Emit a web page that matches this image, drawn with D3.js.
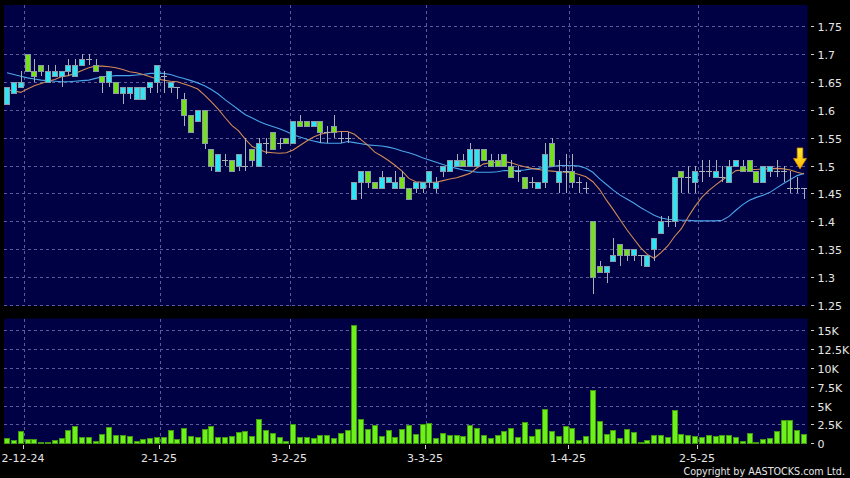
<!DOCTYPE html>
<html><head><meta charset="utf-8">
<script src="https://cdn.jsdelivr.net/npm/d3@7"></script>
<style>html,body{margin:0;padding:0;background:#000;}svg{display:block}</style>
</head><body><svg id="c" width="850" height="478"></svg>
<script>
// ---------------- data ----------------
const opens  = [1.61,1.63,1.64,1.70,1.67,1.68,1.65,1.66,1.66,1.67,1.66,1.68,1.69,1.68,1.66,1.65,1.65,1.63,1.63,1.62,
                1.62,1.64,1.65,1.66,1.64,1.64,1.62,1.59,1.58,1.60,1.53,1.49,1.51,1.51,1.50,1.50,1.53,1.50,1.54,1.56,
                1.54,1.55,1.54,1.58,1.58,1.57,1.58,1.56,1.57,1.55,1.55,1.44,1.47,1.49,1.47,1.46,1.47,1.46,1.48,1.46,
                1.46,1.46,1.47,1.46,1.49,1.49,1.50,1.51,1.50,1.50,1.53,1.51,1.51,1.52,1.50,1.49,1.48,1.47,1.46,1.47,
                1.54,1.47,1.49,1.49,1.47,1.46,1.40,1.32,1.31,1.33,1.36,1.35,1.34,1.34,1.32,1.35,1.38,1.40,1.40,1.49,
                1.48,1.47,1.49,1.49,1.48,1.48,1.47,1.50,1.50,1.51,1.49,1.47,1.49,1.49,1.49,1.46,1.46,1.46];
const highs  = [1.64,1.65,1.67,1.70,1.69,1.68,1.68,1.68,1.67,1.69,1.69,1.70,1.70,1.69,1.66,1.67,1.65,1.64,1.64,1.64,
                1.64,1.65,1.68,1.67,1.65,1.64,1.63,1.59,1.60,1.60,1.53,1.52,1.52,1.51,1.52,1.55,1.53,1.55,1.55,1.56,
                1.55,1.55,1.58,1.59,1.58,1.58,1.58,1.57,1.59,1.56,1.56,1.47,1.49,1.49,1.47,1.49,1.48,1.49,1.49,1.46,
                1.47,1.47,1.49,1.48,1.50,1.51,1.52,1.52,1.54,1.53,1.53,1.52,1.52,1.52,1.51,1.50,1.48,1.48,1.47,1.54,
                1.55,1.51,1.52,1.52,1.48,1.47,1.40,1.33,1.32,1.37,1.36,1.35,1.35,1.34,1.34,1.37,1.41,1.41,1.48,1.49,
                1.50,1.50,1.51,1.51,1.51,1.50,1.51,1.51,1.51,1.51,1.49,1.50,1.50,1.51,1.50,1.49,1.48,1.46];
const lows   = [1.61,1.63,1.64,1.67,1.65,1.66,1.65,1.66,1.64,1.66,1.66,1.68,1.68,1.67,1.63,1.64,1.63,1.61,1.62,1.62,
                1.62,1.63,1.63,1.63,1.63,1.62,1.57,1.56,1.58,1.53,1.49,1.49,1.50,1.49,1.49,1.49,1.50,1.50,1.52,1.53,
                1.53,1.54,1.54,1.57,1.57,1.57,1.54,1.54,1.55,1.54,1.54,1.44,1.44,1.46,1.46,1.46,1.47,1.46,1.46,1.44,
                1.45,1.45,1.46,1.45,1.48,1.49,1.50,1.50,1.50,1.50,1.51,1.50,1.50,1.50,1.48,1.47,1.46,1.46,1.46,1.46,
                1.50,1.45,1.45,1.46,1.45,1.45,1.27,1.31,1.29,1.33,1.32,1.33,1.33,1.32,1.32,1.33,1.38,1.39,1.39,1.45,
                1.45,1.45,1.47,1.48,1.48,1.47,1.47,1.50,1.49,1.49,1.47,1.47,1.48,1.48,1.47,1.45,1.45,1.44];
const closes = [1.64,1.65,1.65,1.67,1.66,1.67,1.67,1.67,1.67,1.68,1.68,1.69,1.69,1.67,1.65,1.67,1.63,1.64,1.64,1.64,
                1.64,1.65,1.68,1.66,1.65,1.64,1.59,1.56,1.60,1.54,1.50,1.52,1.51,1.49,1.52,1.50,1.51,1.54,1.54,1.53,
                1.54,1.54,1.58,1.57,1.57,1.58,1.56,1.56,1.56,1.55,1.55,1.47,1.49,1.47,1.46,1.48,1.48,1.47,1.46,1.44,
                1.47,1.47,1.49,1.47,1.50,1.51,1.51,1.50,1.53,1.53,1.51,1.50,1.50,1.50,1.48,1.49,1.46,1.47,1.47,1.52,
                1.50,1.49,1.49,1.47,1.47,1.46,1.30,1.31,1.32,1.34,1.34,1.34,1.35,1.34,1.34,1.37,1.40,1.40,1.48,1.48,
                1.48,1.49,1.49,1.49,1.49,1.48,1.50,1.51,1.49,1.49,1.47,1.50,1.50,1.49,1.49,1.46,1.46,1.46];
const volumes = [660,400,1630,570,570,180,130,400,750,1800,2300,880,880,350,1240,2100,1150,1060,970,260,
                 620,700,790,790,1720,620,2030,1000,840,1940,2250,840,880,970,1460,1680,970,3180,1720,1320,
                 840,310,2560,880,790,660,1100,1100,700,1370,1760,15600,3180,1900,2470,970,1720,840,1940,2470,
                 1240,2560,2650,750,1320,1150,1150,970,2430,1990,1060,750,1060,1590,1990,880,2780,1000,1940,4540,
                 1590,930,2300,2030,490,970,7000,2900,1190,1720,700,1900,1500,220,440,1060,1150,840,4370,1280,
                 1150,970,880,1150,970,1150,1060,880,310,1410,220,530,700,1630,3090,3090,1760,1190];
const maShort = [1.635,1.634,1.631,1.637,1.643,1.647,1.651,1.654,1.659,1.661,1.665,1.670,1.675,1.678,1.678,1.677,1.675,1.672,1.668,1.666,
                 1.663,1.659,1.655,1.653,1.651,1.650,1.646,1.642,1.637,1.626,1.614,1.601,1.586,1.572,1.562,1.547,1.534,1.529,1.524,1.523,
                 1.522,1.523,1.528,1.536,1.544,1.551,1.556,1.559,1.560,1.561,1.561,1.556,1.546,1.536,1.524,1.517,1.509,1.500,1.490,1.477,
                 1.471,1.470,1.470,1.470,1.473,1.476,1.478,1.482,1.486,1.496,1.503,1.505,1.506,1.507,1.505,1.501,1.498,1.495,1.493,1.491,
                 1.490,1.489,1.488,1.487,1.484,1.480,1.471,1.457,1.438,1.421,1.403,1.385,1.369,1.353,1.341,1.334,1.344,1.356,1.373,1.387,
                 1.408,1.427,1.443,1.455,1.465,1.474,1.482,1.491,1.492,1.493,1.493,1.494,1.494,1.495,1.494,1.492,1.488,1.485];
const maLong  = [1.666,1.663,1.660,1.657,1.655,1.653,1.652,1.651,1.650,1.650,1.651,1.652,1.653,1.656,1.659,1.660,1.661,1.661,1.661,1.662,
                 1.663,1.665,1.665,1.665,1.663,1.659,1.656,1.652,1.648,1.643,1.636,1.628,1.618,1.609,1.600,1.591,1.585,1.579,1.574,1.570,
                 1.566,1.561,1.555,1.551,1.547,1.544,1.541,1.540,1.540,1.540,1.543,1.541,1.539,1.537,1.536,1.535,1.533,1.530,1.526,1.523,
                 1.519,1.514,1.510,1.506,1.502,1.498,1.495,1.492,1.490,1.488,1.488,1.488,1.489,1.491,1.491,1.491,1.492,1.494,1.495,1.497,
                 1.498,1.500,1.500,1.500,1.499,1.495,1.488,1.476,1.466,1.456,1.447,1.440,1.433,1.425,1.418,1.411,1.406,1.404,1.403,1.402,
                 1.402,1.401,1.401,1.401,1.401,1.402,1.409,1.420,1.430,1.438,1.443,1.447,1.452,1.460,1.468,1.475,1.482,1.486];
const dateTickIndex  = [2,22,41,61,82,101];
const dateTickLabels = ["2-12-24","2-1-25","3-2-25","3-3-25","1-4-25","2-5-25"];
const priceTicks  = [1.25,1.3,1.35,1.4,1.45,1.5,1.55,1.6,1.65,1.7,1.75];
const volumeTicks = [0,2500,5000,7500,10000,12500,15000];
const volumeTickLabels = ["0","2.5K","5K","7.5K","10K","12.5K","15K"];

// ---------------- drawing ----------------
const svg = d3.select("#c");
const W = 850, H = 478;
const panelL = 4, panelR = 807.5;
const pTop = 5, pBot = 306, vTop = 318.5, vBot = 443.5;
const FONT = "DejaVu Sans, Verdana, sans-serif";
const gridColor = "#5b5b9c", panelFill = "#000044";

svg.append("rect").attr("width", W).attr("height", H).attr("fill", "#000");

const n = closes.length;
const x = d3.scaleBand().domain(d3.range(n)).range([3.6, 807.4]).paddingInner(0.14).paddingOuter(0.07);
const step = x.step();
const cx = i => x(i) + x.bandwidth() / 2;
const yP = d3.scaleLinear().domain([1.25, 1.75]).range([305.2, 25.9]);
const yV = d3.scaleLinear().domain([0, 15000]).range([443.3, 329.9]);

svg.append("rect").attr("x", panelL).attr("y", pTop).attr("width", panelR - panelL).attr("height", pBot - pTop).attr("fill", panelFill);
svg.append("rect").attr("x", panelL).attr("y", vTop).attr("width", panelR - panelL).attr("height", vBot - vTop).attr("fill", panelFill);

const grid = svg.append("g").attr("stroke", gridColor).attr("stroke-width", 1).attr("stroke-dasharray", "3,3").attr("shape-rendering", "crispEdges");
// horizontal price grid
grid.selectAll(".hp").data(priceTicks).join("line")
  .attr("x1", panelL).attr("x2", panelR).attr("y1", d => Math.round(yP(d)) + 0.5).attr("y2", d => Math.round(yP(d)) + 0.5);
grid.selectAll(".hv").data(volumeTicks.filter(d => d > 0)).join("line")
  .attr("x1", panelL).attr("x2", panelR).attr("y1", d => Math.round(yV(d)) + 0.5).attr("y2", d => Math.round(yV(d)) + 0.5);
// vertical date grid (both panels)
const gx = i => Math.round(cx(i) + step / 2) + 0.5;
dateTickIndex.forEach(i => {
  grid.append("line").attr("x1", gx(i)).attr("x2", gx(i)).attr("y1", pTop).attr("y2", pBot);
  grid.append("line").attr("x1", gx(i)).attr("x2", gx(i)).attr("y1", vTop).attr("y2", vBot);
});

// moving averages
const line = d3.line().x((d, i) => cx(i)).y(d => yP(d));
svg.append("path").datum(maLong).attr("d", line).attr("fill", "none").attr("stroke", "#4aa6ea").attr("stroke-width", 1.1);
svg.append("path").datum(maShort).attr("d", line).attr("fill", "none").attr("stroke", "#d28a55").attr("stroke-width", 1.1);

// candles
const up = "#2de6f5", down = "#76e01c", edge = "#8c9aa8";
const cg = svg.append("g").attr("shape-rendering", "crispEdges");
d3.range(n).forEach(i => {
  const X = Math.round(x(i));
  const mid = X + 3;
  cg.append("line").attr("x1", mid).attr("x2", mid).attr("y1", yP(highs[i])).attr("y2", yP(lows[i]))
    .attr("stroke", "#a8b0b8").attr("stroke-width", 1);
  if (opens[i] === closes[i]) {
    const yy = Math.round(yP(closes[i])) + 0.5;
    cg.append("line").attr("x1", X).attr("x2", X + 6).attr("y1", yy).attr("y2", yy).attr("stroke", "#a8b0b8");
  } else {
    const t = Math.round(yP(Math.max(opens[i], closes[i])));
    const b = Math.round(yP(Math.min(opens[i], closes[i])));
    cg.append("rect").attr("x", X + 0.5).attr("y", t + 0.5).attr("width", 5).attr("height", Math.max(1, b - t))
      .attr("fill", closes[i] > opens[i] ? up : down).attr("stroke", edge).attr("stroke-width", 1);
  }
});

// volume bars
const vg = svg.append("g").attr("shape-rendering", "crispEdges");
vg.selectAll("rect").data(volumes).join("rect")
  .attr("x", (d, i) => Math.round(x(i)) + 0.5)
  .attr("y", d => Math.round(yV(d)) + 0.5)
  .attr("width", 5)
  .attr("height", d => Math.max(0.5, Math.round(yV(0)) - Math.round(yV(d))))
  .attr("fill", "#6ef01a").attr("stroke", "#3f9a12").attr("stroke-width", 1);

// right axes
const axG = svg.append("g").attr("font-family", FONT).attr("font-size", 11).attr("fill", "#e6e6e6");
priceTicks.forEach(v => {
  const yy = Math.round(yP(v)) + 0.5;
  axG.append("line").attr("x1", 811).attr("x2", 814).attr("y1", yy).attr("y2", yy).attr("stroke", "#cfcfcf").attr("shape-rendering", "crispEdges");
  axG.append("text").attr("x", 817.5).attr("y", yy + 4).text(String(v));
});
volumeTicks.forEach((v, k) => {
  const yy = Math.round(yV(v)) + 0.5;
  axG.append("line").attr("x1", 811).attr("x2", 814).attr("y1", yy).attr("y2", yy).attr("stroke", "#cfcfcf").attr("shape-rendering", "crispEdges");
  axG.append("text").attr("x", 817.5).attr("y", yy + 4).text(volumeTickLabels[k]);
});

// bottom date axis
dateTickIndex.forEach((i, k) => {
  const px = gx(i) - 1.5;
  axG.append("line").attr("x1", px).attr("x2", px).attr("y1", 445).attr("y2", 449).attr("stroke", "#cfcfcf").attr("shape-rendering", "crispEdges");
  const t = axG.append("text").attr("y", 462).attr("text-anchor", "middle").text(dateTickLabels[k]);
  const w = t.node().getComputedTextLength();
  t.attr("x", Math.max(w / 2, px));
});

// copyright
svg.append("text").attr("x", 845).attr("y", 474.5).attr("text-anchor", "end")
  .attr("font-family", FONT).attr("font-size", 9.6).attr("fill", "#e6e6e6")
  .text("Copyright by AASTOCKS.com Ltd.");

// latest-point arrow marker
const defs = svg.append("defs");
const gr = defs.append("linearGradient").attr("id", "ag").attr("x1", 0).attr("y1", 0).attr("x2", 0).attr("y2", 1);
gr.append("stop").attr("offset", "0%").attr("stop-color", "#ffee33");
gr.append("stop").attr("offset", "100%").attr("stop-color", "#ffb400");
const ax = cx(n - 1) - 4, ay = yP(maShort[n - 1]) - 5;
svg.append("path")
  .attr("d", `M${ax-2.8},${ay-21} L${ax+2.8},${ay-21} L${ax+2.8},${ay-10.5} L${ax+6.5},${ay-10.5} L${ax},${ay} L${ax-6.5},${ay-10.5} L${ax-2.8},${ay-10.5} Z`)
  .attr("fill", "url(#ag)").attr("stroke", "#d08a00").attr("stroke-width", 0.8);
</script></body></html>
